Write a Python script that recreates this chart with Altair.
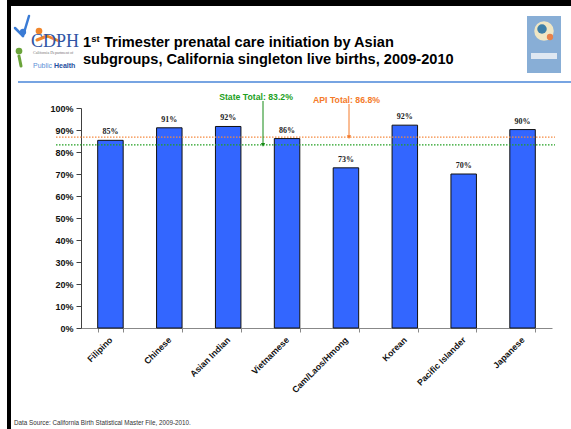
import altair as alt
import pandas as pd

# ---- data ----
categories = ["Filipino", "Chinese", "Asian Indian", "Vietnamese",
              "Cam/Laos/Hmong", "Korean", "Pacific Islander", "Japanese"]
values = [85.3, 91.0, 91.6, 86.1, 72.8, 92.2, 70.0, 90.2]
labels = ["85%", "91%", "92%", "86%", "73%", "92%", "70%", "90%"]
ref_names = ["State Total: 83.2%", "API Total: 86.8%"]
ref_values = [83.2, 86.8]

title_line1 = "Trimester prenatal care initiation by Asian"
title_line2 = "subgroups, California singleton live births, 2009-2010"
source_text = "Data Source:  California Birth Statistical Master File, 2009-2010."

W, H = 471, 220
SANS = "Liberation Sans"

df = pd.DataFrame({"cat": categories, "val": values, "lab": labels})

yscale = alt.Scale(domain=[0, 100], nice=False)
xscale = alt.Scale(paddingInner=0.567, paddingOuter=0.2835)

x_axis = alt.Axis(labelAngle=-45, labelAlign="right", labelBaseline="middle",
                  labelFont=SANS, labelFontWeight="bold", labelFontSize=8.8,
                  labelColor="#111", labelPadding=6, tickSize=4,
                  labelOverlap=False, labelLimit=200,
                  tickBand="extent", domainColor="#888", tickColor="#888",
                  grid=False)
y_axis = alt.Axis(values=list(range(0, 101, 10)),
                  labelExpr="datum.value + '%'", labelOverlap=False,
                  labelFont=SANS, labelFontWeight="bold", labelFontSize=9,
                  labelColor="#111", labelPadding=3, tickSize=5,
                  domainColor="#404040", tickColor="#404040", grid=False)

xs = alt.X("cat:N", sort=categories, title=None, scale=xscale, axis=x_axis)
ys = alt.Y("val:Q", title=None, scale=yscale, axis=y_axis)

bars = alt.Chart(df).mark_bar(color="#3366ff", stroke="#111", strokeWidth=1).encode(x=xs, y=ys)
bar_labels = alt.Chart(df).mark_text(dy=-8, font="Liberation Serif", fontWeight="bold",
                                     fontSize=8, color="#222").encode(
    x=xs, y=ys, text="lab:N")

ref_df = pd.DataFrame({"name": ref_names, "val": ref_values,
                       "color": ["#22a022", "#f58a40"]})
ref_lines = alt.Chart(ref_df).mark_rule(strokeDash=[1.5, 1.5], strokeWidth=1.3).encode(
    x=alt.value(-25), x2=alt.value(474), y=ys,
    color=alt.Color("color:N", scale=None))

# annotations
state_df = pd.DataFrame({"name": [ref_names[0]], "val": [ref_values[0]]})
api_df = pd.DataFrame({"name": [ref_names[1]], "val": [ref_values[1]]})
GREEN, ORANGE = "#22a022", "#f47a2a"

state_text = alt.Chart(state_df).mark_text(font=SANS, fontWeight="bold", fontSize=8.7,
                                           color=GREEN, align="center").encode(
    x=alt.value(175), y=alt.value(-11), text="name:N")
state_arrow = alt.Chart(state_df).mark_rule(color="#158a15", strokeWidth=1).encode(
    x=alt.value(182), y=ys, y2=alt.value(-7))
state_head = alt.Chart(state_df).mark_point(shape="triangle-down", filled=True, size=18,
                                            color="#158a15", opacity=1).encode(
    x=alt.value(182), y=ys)

api_text = alt.Chart(api_df).mark_text(font=SANS, fontWeight="bold", fontSize=8.7,
                                       color=ORANGE, align="center").encode(
    x=alt.value(265.5), y=alt.value(-8), text="name:N")
api_arrow = alt.Chart(api_df).mark_rule(color=ORANGE, strokeWidth=1).encode(
    x=alt.value(268), y=ys, y2=alt.value(-4))
api_head = alt.Chart(api_df).mark_point(shape="triangle-down", filled=True, size=18,
                                        color=ORANGE, opacity=1).encode(
    x=alt.value(268), y=ys)

one = pd.DataFrame({"k": [0]})


def vrule(x, y1, y2, color, width):
    return alt.Chart(one).mark_rule(color=color, strokeWidth=width, strokeCap="butt").encode(
        x=alt.value(x), y=alt.value(y1), y2=alt.value(y2))


def hrule(x1, x2, y, color, width):
    return alt.Chart(one).mark_rule(color=color, strokeWidth=width, strokeCap="butt").encode(
        x=alt.value(x1), x2=alt.value(x2), y=alt.value(y))


def seg(x1, y1, x2, y2, color, width):
    return alt.Chart(one).mark_rule(color=color, strokeWidth=width, strokeCap="round").encode(
        x=alt.value(x1), x2=alt.value(x2), y=alt.value(y1), y2=alt.value(y2))


def txt(x, y, s, size, color="#000", weight="normal", font=SANS, align="left"):
    return alt.Chart(one).mark_text(font=font, fontSize=size, fontWeight=weight, align=align,
                                    baseline="alphabetic", color=color).encode(
        x=alt.value(x), y=alt.value(y), text=alt.value(s))


def dot(x, y, size, color):
    return alt.Chart(one).mark_point(shape="circle", filled=True, size=size, color=color,
                                     opacity=1).encode(x=alt.value(x), y=alt.value(y))


# slide frame and header
frame_left = vrule(-72, -108, 321, "#000", 4)
frame_top = hrule(-74, 490, -105, "#000", 6)
header_rule = hrule(-63, 490, -26, "#4a86d8", 1.5)

t_one = txt(2, -61, "1", 14.6, weight="bold")
t_st = txt(10.3, -66, "st", 9.5, weight="bold")
t_l1 = txt(23, -61, title_line1, 14.6, weight="bold")
t_l2 = txt(2, -44, title_line2, 14.6, weight="bold")

# CDPH logo (approximation)
logo_cdph = txt(-50, -61, "CDPH", 18, color="#2f55a4", font="Liberation Serif")
logo_sub = txt(-48, -54, "California Department of", 4, color="#777", font="Liberation Serif")
logo_pub = txt(-48, -40, "Public", 7, color="#5b8ed6")
logo_health = txt(-27, -40, "Health", 7, color="#1f4fa0", weight="bold")
logo_blue_arm1 = seg(-58, -72, -52, -92, "#3a7bd5", 2.5)
logo_blue_arm2 = seg(-58, -72, -66, -80, "#3a7bd5", 2.5)
logo_orange_arm1 = seg(-44, -68, -34, -72, "#f0862c", 3)
logo_orange_arm2 = seg(-34, -72, -22, -67, "#f0862c", 2.5)
logo_green_arc = seg(-62, -52, -60, -42, "#6aa33a", 3)
logo_blue = dot(-58, -76, 40, "#3a7bd5")
logo_orange = dot(-42, -77, 45, "#f0862c")
logo_green = dot(-62, -57, 45, "#6aa33a")

# right-hand logo (approximation)
logo_r = vrule(463, -92, -35, "#88aed6", 34)
logo_r_heart = dot(463, -77, 380, "#efe6c4")
logo_r_fig = dot(461, -79, 90, "#3d7fa8")
logo_r_fig2 = dot(469, -71, 40, "#e7814a")
logo_r_txt = hrule(450, 476, -52, "#dfe8f2", 6)

source = txt(-67, 317, source_text, 6.3, color="#333")

chart = alt.layer(
    frame_left, frame_top, header_rule,
    logo_blue_arm1, logo_blue_arm2, logo_orange_arm1, logo_orange_arm2, logo_green_arc,
    logo_blue, logo_orange, logo_green,
    logo_cdph, logo_sub, logo_pub, logo_health,
    logo_r, logo_r_heart, logo_r_fig, logo_r_fig2, logo_r_txt,
    t_one, t_st, t_l1, t_l2,
    bars, ref_lines, bar_labels,
    state_arrow, state_head, state_text,
    api_arrow, api_head, api_text,
    source,
).properties(
    width=W, height=H,
    padding={"left": 81, "top": 108, "right": 19, "bottom": 101},
    autosize=alt.AutoSizeParams(type="none"),
    background="white",
).configure_view(stroke=None)

chart.save("out.html", embed_options={"renderer": "svg", "actions": False})
